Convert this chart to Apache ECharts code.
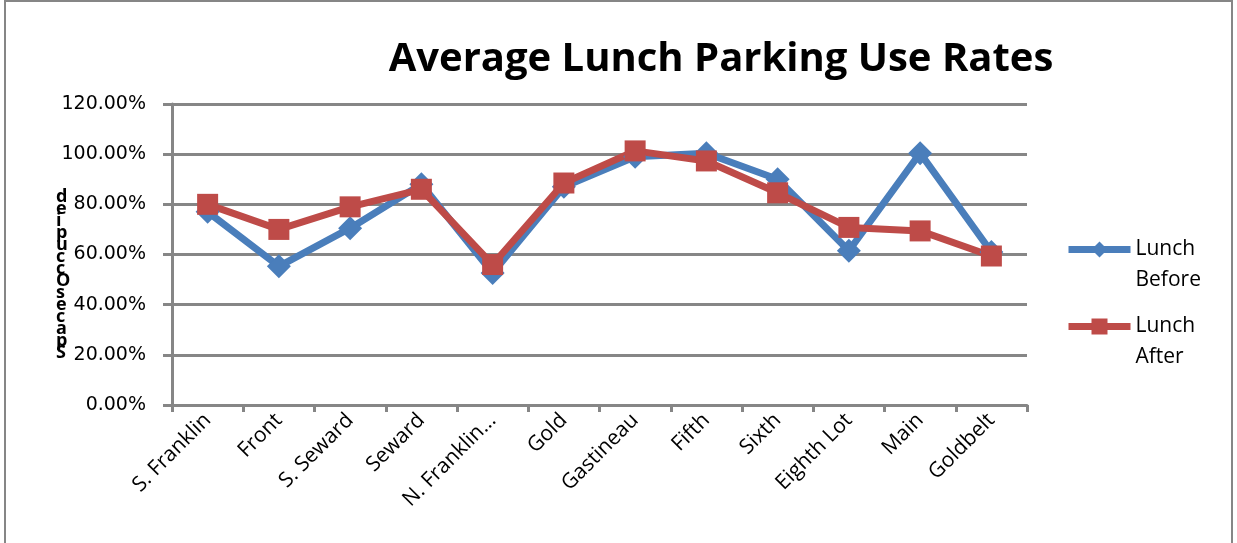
<!DOCTYPE html>
<html>
<head>
<meta charset="utf-8">
<script src="https://cdn.jsdelivr.net/npm/echarts@6/dist/echarts.min.js"></script>
<style>
  html, body { margin: 0; padding: 0; background: #fff; }
  #chart { width: 1237px; height: 543px; }
</style>
</head>
<body>
<div id="chart"></div>
<script>
// data
const categories = ['S. Franklin', 'Front', 'S. Seward', 'Seward', 'N. Franklin...', 'Gold',
  'Gastineau', 'Fifth', 'Sixth', 'Eighth Lot', 'Main', 'Goldbelt']
const lunchBefore = [0.77, 0.553, 0.705, 0.88, 0.526, 0.87, 0.99, 1.004, 0.90, 0.615, 1.004, 0.61]
const lunchAfter = [0.80, 0.70, 0.79, 0.86, 0.56, 0.885, 1.013, 0.973, 0.846, 0.708, 0.694, 0.594]
const yTicks = { min: 0, max: 1.2, interval: 0.2 }

const axisGrey = '#868686'
const font = 'Open Sans, sans-serif'
const labelFont = 'DejaVu Sans, sans-serif'

const chart = echarts.init(document.getElementById('chart'))

chart.setOption({
  backgroundColor: '#fff',
  animation: false,
  title: {
    text: 'Average Lunch Parking Use Rates',
    left: 716,
    top: 35,
    textAlign: 'center',
    textStyle: { fontFamily: font, fontSize: 40, fontWeight: 'bold', color: '#000' },
  },
  graphic: [
    {
      type: 'rect',
      shape: { x: 5, y: 1, width: 1227, height: 550 },
      style: { fill: 'none', stroke: axisGrey, lineWidth: 2 },
    },
    {
      // axis title drawn as stacked letters, like the source
      type: 'text',
      left: 56,
      top: 188,
      style: {
        text: 'Spaces Occupied'.replace(' ', '').split('').reverse().join('\n'),
        fontFamily: font,
        fontSize: 18,
        fontWeight: 'bold',
        lineHeight: 12,
        fill: '#000',
        align: 'center',
      },
    },
  ],
  legend: {
    orient: 'vertical',
    left: 1060,
    top: 198,
    itemGap: -16,
    itemWidth: 62,
    itemHeight: 20,
    textStyle: { fontFamily: font, fontSize: 21, color: '#000', lineHeight: 31 },
    // leading blank line puts the first word level with the icon
    formatter: (name) => '\n' + name.replace(' ', '\n'),
    data: [
      { name: 'Lunch Before', lineStyle: { width: 7 } },
      { name: 'Lunch After', lineStyle: { width: 7 } },
    ],
  },
  grid: { left: 172, right: 210, top: 104, bottom: 138 },
  xAxis: {
    type: 'category',
    data: categories,
    boundaryGap: true,
    axisLine: { lineStyle: { color: axisGrey, width: 3 } },
    axisTick: { show: true, length: 7, lineStyle: { color: axisGrey, width: 3 } },
    axisLabel: {
      rotate: 45,
      interval: 0,
      margin: 12,
      fontFamily: font,
      fontSize: 21,
      color: '#000',
    },
  },
  yAxis: {
    type: 'value',
    min: yTicks.min,
    max: yTicks.max,
    interval: yTicks.interval,
    axisLine: { show: true, lineStyle: { color: axisGrey, width: 3 } },
    axisTick: { show: true, length: 9, lineStyle: { color: axisGrey, width: 3 } },
    splitLine: { lineStyle: { color: axisGrey, width: 3 } },
    axisLabel: {
      margin: 26,
      fontFamily: labelFont,
      fontSize: 19,
      color: '#000',
      formatter: (v) => (v * 100).toFixed(2) + '%',
    },
  },
  series: [
    {
      name: 'Lunch Before',
      type: 'line',
      data: lunchBefore,
      symbol: 'diamond',
      symbolSize: 24,
      itemStyle: { color: '#4a7ebb' },
      lineStyle: { color: '#4a7ebb', width: 7 },
    },
    {
      name: 'Lunch After',
      type: 'line',
      data: lunchAfter,
      symbol: 'rect',
      symbolSize: 21,
      itemStyle: { color: '#be4b48' },
      lineStyle: { color: '#be4b48', width: 7 },
    },
  ],
})
</script>
</body>
</html>
